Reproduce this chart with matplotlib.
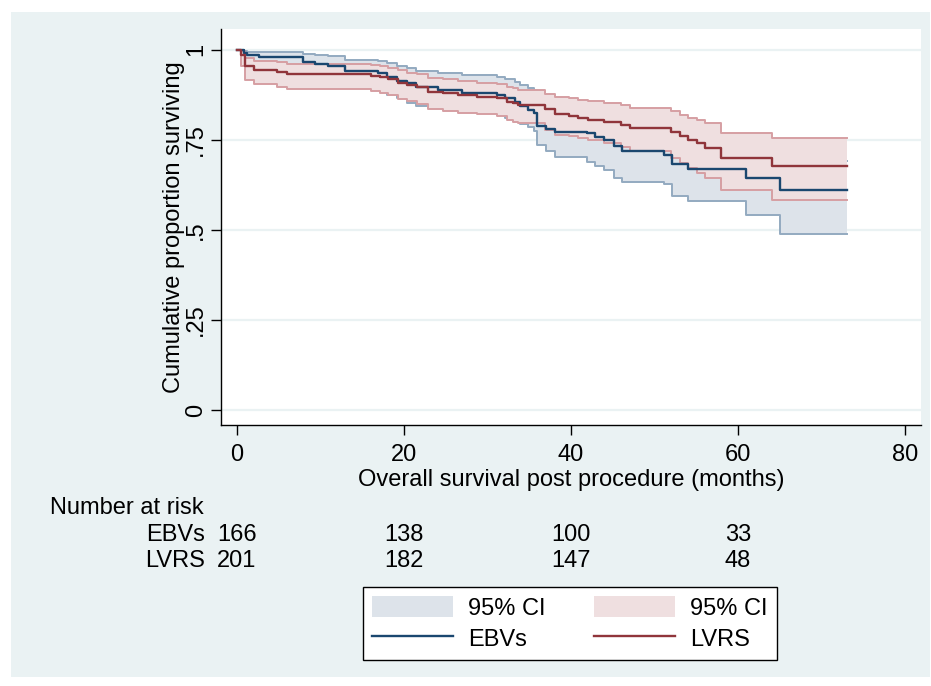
# Kaplan-Meier style survival curves, EBVs vs LVRS, Stata s2color look
import matplotlib.pyplot as plt
from matplotlib.patches import Rectangle, Patch
from matplotlib.lines import Line2D
import matplotlib.transforms as mtransforms

plt.rcParams['font.family'] = ['Liberation Sans', 'DejaVu Sans']

# EBVs: step times (months), estimate and 95% CI
ebv_t = [0, 0.8, 1.2, 2.6, 7.9, 9.3, 10.9, 12.9, 16.9, 17.9, 19.1, 20.4, 21.4, 24.1,
         26.9, 31.1, 32.1, 33.3, 33.9, 34.9, 35.5, 35.9, 37.0, 38.1, 41.9, 42.9, 43.9,
         45.1, 46.1, 51.1, 52.1, 54.0, 61.0, 65.0]
ebv_s = [1.0, 0.991, 0.986, 0.980, 0.965, 0.961, 0.956, 0.940, 0.935, 0.924, 0.913,
         0.907, 0.898, 0.889, 0.880, 0.875, 0.866, 0.856, 0.843, 0.833, 0.824, 0.790,
         0.780, 0.772, 0.769, 0.759, 0.750, 0.733, 0.718, 0.708, 0.683, 0.669, 0.644, 0.611]
ebv_lo = [1.0, 0.958, 0.950, 0.942, 0.925, 0.920, 0.913, 0.895, 0.888, 0.875, 0.865,
          0.852, 0.845, 0.838, 0.828, 0.819, 0.812, 0.803, 0.795, 0.785, 0.775, 0.735,
          0.718, 0.703, 0.690, 0.678, 0.667, 0.645, 0.634, 0.628, 0.593, 0.579, 0.542, 0.489]
ebv_hi = [1.0, 0.998, 0.995, 0.993, 0.989, 0.986, 0.983, 0.972, 0.968, 0.963, 0.955,
          0.950, 0.940, 0.937, 0.930, 0.926, 0.920, 0.912, 0.903, 0.895, 0.888, 0.850,
          0.841, 0.834, 0.831, 0.822, 0.815, 0.800, 0.787, 0.778, 0.756, 0.744, 0.722, 0.692]

# LVRS
lvrs_t = [0, 0.5, 1.0, 2.0, 4.8, 6.0, 16.0, 17.1, 18.1, 19.3, 20.3, 21.5, 22.9, 24.7,
          26.5, 28.7, 31.1, 32.3, 33.1, 33.7, 36.9, 38.1, 39.8, 40.8, 42.0, 43.9, 46.0,
          47.1, 52.0, 53.1, 54.0, 55.1, 56.0, 58.0, 64.0]
lvrs_s = [1.0, 0.986, 0.954, 0.944, 0.938, 0.933, 0.928, 0.924, 0.918, 0.909, 0.903,
          0.898, 0.884, 0.880, 0.875, 0.870, 0.866, 0.856, 0.852, 0.847, 0.835, 0.822,
          0.816, 0.812, 0.806, 0.799, 0.792, 0.782, 0.773, 0.760, 0.750, 0.741, 0.727,
          0.699, 0.677]
lvrs_lo = [1.0, 0.955, 0.917, 0.905, 0.898, 0.892, 0.886, 0.881, 0.874, 0.864, 0.857,
           0.851, 0.836, 0.831, 0.826, 0.821, 0.817, 0.806, 0.801, 0.796, 0.778, 0.765,
           0.760, 0.754, 0.750, 0.741, 0.730, 0.718, 0.700, 0.685, 0.671, 0.657, 0.644,
           0.611, 0.583]
lvrs_hi = [1.0, 0.997, 0.978, 0.970, 0.966, 0.962, 0.958, 0.955, 0.950, 0.943, 0.937,
           0.933, 0.921, 0.918, 0.913, 0.909, 0.905, 0.896, 0.893, 0.888, 0.877, 0.870,
           0.865, 0.861, 0.857, 0.852, 0.847, 0.838, 0.829, 0.819, 0.812, 0.806, 0.796,
           0.769, 0.755]
t_end = 73.0

# number at risk table
risk_times = [0, 20, 40, 60]
risk_ebv = [166, 138, 100, 33]
risk_lvrs = [201, 182, 147, 48]

bg = '#eaf2f3'
navy = '#1a476f'
maroon = '#90353b'
ebv_fill, ebv_edge = '#dde3ea', '#93aac0'
lvrs_fill, lvrs_edge = '#efdfe0', '#d69fa3'
fs = 17


def ext(t, v):
    # carry last value out to the end of follow-up
    return list(t) + [t_end], list(v) + [v[-1]]


fig = plt.figure(figsize=(9.31, 6.86), dpi=100)
fig.patches.append(Rectangle((11 / 931, 9 / 686), 919 / 931, 665 / 686,
                             transform=fig.transFigure, facecolor=bg,
                             edgecolor='none', zorder=-10))

ax = fig.add_axes([221 / 931, 1 - 425 / 686, 700 / 931, 396 / 686])
ax.set_facecolor('white')

# CI bands: EBVs first, LVRS drawn opaque on top
for t, lo, hi, fc, ec, z in [(ebv_t, ebv_lo, ebv_hi, ebv_fill, ebv_edge, 2),
                             (lvrs_t, lvrs_lo, lvrs_hi, lvrs_fill, lvrs_edge, 3)]:
    tt, ll = ext(t, lo)
    _, hh = ext(t, hi)
    ax.fill_between(tt, ll, hh, step='post', facecolor=fc, edgecolor='none', zorder=z)
    ax.step(tt, ll, where='post', color=ec, lw=1.4, zorder=z)
    ax.step(tt, hh, where='post', color=ec, lw=1.4, zorder=z)

tt, ss = ext(ebv_t, ebv_s)
ax.step(tt, ss, where='post', color=navy, lw=1.7, zorder=5)
tt, ss = ext(lvrs_t, lvrs_s)
ax.step(tt, ss, where='post', color=maroon, lw=1.7, zorder=6)

ax.set_xlim(-1.92, 81.9)
ax.set_ylim(-0.0417, 1.058)
ax.set_xticks([0, 20, 40, 60, 80])
ax.set_yticks([0, 0.25, 0.5, 0.75, 1])
ax.set_yticklabels(['0', '.25', '.5', '.75', '1'], rotation=90, va='center')
ax.tick_params(labelsize=fs, length=7, width=1, color='black')
ax.tick_params(axis='x', pad=7)
ax.tick_params(axis='y', pad=3)
for y in [0, 0.25, 0.5, 0.75, 1]:
    ax.axhline(y, color=bg, lw=1.6, zorder=1)
for side in ['top', 'right']:
    ax.spines[side].set_visible(False)
for side in ['left', 'bottom']:
    ax.spines[side].set_linewidth(1)
ax.set_xlabel('Overall survival post procedure (months)', fontsize=fs, labelpad=2)
ax.set_ylabel('Cumulative proportion surviving', fontsize=fs, labelpad=0)

# number at risk
fig.text(50 / 931, 1 - 508 / 686, 'Number at risk', fontsize=fs, va='center', ha='left')
trans = mtransforms.blended_transform_factory(ax.transData, fig.transFigure)
for name, row, ypx in [('EBVs', risk_ebv, 535), ('LVRS', risk_lvrs, 561)]:
    fig.text(205 / 931, 1 - ypx / 686, name, fontsize=fs, va='center', ha='right')
    for x, n in zip(risk_times, row):
        ax.text(x, 1 - ypx / 686, str(n), transform=trans, fontsize=fs,
                va='center', ha='center', clip_on=False)

handles = [Patch(facecolor=ebv_fill, edgecolor='none'),
           Line2D([], [], color=navy, lw=1.7),
           Patch(facecolor=lvrs_fill, edgecolor='none'),
           Line2D([], [], color=maroon, lw=1.7)]
labels = ['95% CI', 'EBVs', '95% CI', 'LVRS']
leg = fig.legend(handles, labels, ncol=2, fontsize=fs, loc='lower left',
                 bbox_to_anchor=(363 / 931, 1 - 660 / 686, 414 / 931, 77 / 686),
                 mode='expand', frameon=True, fancybox=False, framealpha=1,
                 edgecolor='black', handlelength=3.4, handleheight=1.0,
                 handletextpad=0.65, columnspacing=1.2, labelspacing=0.3,
                 borderpad=0.4, borderaxespad=0)
leg.get_frame().set_linewidth(1)

fig.savefig('out.png', dpi=100)
